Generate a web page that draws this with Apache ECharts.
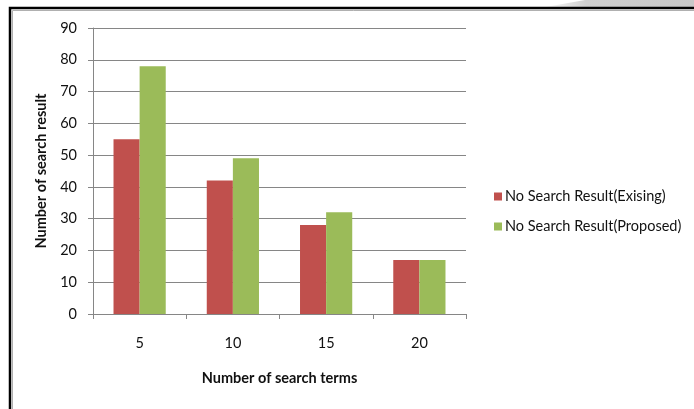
<!DOCTYPE html>
<html>
<head>
<meta charset="utf-8">
<style>
  html, body { margin: 0; padding: 0; background: #fff; }
  #chart { width: 694px; height: 409px; }
</style>
<script src="https://cdn.jsdelivr.net/npm/echarts@6/dist/echarts.min.js"></script>
</head>
<body>
<div id="chart"></div>
<script>
// Number of search terms (categories)
const searchTerms = ['5', '10', '15', '20'];
// Searches that returned no result
const existingValues = [55, 42, 28, 17];
const proposedValues = [78, 49, 32, 17];
// Series names
const seriesNames = ['No Search Result(Exising)', 'No Search Result(Proposed)'];

const FONT = 'Lato, "Open Sans", sans-serif';
const AXIS_GRAY = '#868686';
const TEXT = '#111111';

const chart = echarts.init(document.getElementById('chart'), null, { renderer: 'canvas' });

chart.setOption({
  animation: false,
  backgroundColor: '#ffffff',
  textStyle: { fontFamily: FONT },
  graphic: [
    // grey tab in the top-right corner
    {
      type: 'polygon',
      z: -1,
      shape: { points: [[540, 8], [585, 0], [694, 0], [694, 8]] },
      style: {
        fill: new echarts.graphic.LinearGradient(0, 0, 1, 0, [
          { offset: 0, color: '#ffffff' },
          { offset: 0.3, color: '#cfcfcf' },
          { offset: 1, color: '#c8c8c8' }
        ])
      }
    },
    // frame shadow line
    {
      type: 'polyline',
      z: -1,
      shape: { points: [[12.5, 420], [12.5, 10.5], [700, 10.5]] },
      style: { stroke: '#b0b0b0', lineWidth: 1, fill: null }
    },
    // frame
    {
      type: 'polyline',
      z: -1,
      shape: { points: [[10, 420], [10, 8], [700, 8]] },
      style: { stroke: '#000000', lineWidth: 2.5, fill: null }
    }
  ],
  grid: { left: 93, right: 228, top: 28, bottom: 95, containLabel: false },
  legend: {
    orient: 'vertical',
    left: 489,
    top: 184,
    itemWidth: 8,
    itemHeight: 8,
    itemGap: 15,
    icon: 'rect',
    textStyle: { fontFamily: FONT, fontSize: 14.5, color: TEXT, padding: [0, 0, 0, -2] },
    data: seriesNames
  },
  xAxis: {
    type: 'category',
    data: searchTerms,
    name: 'Number of search terms',
    nameLocation: 'middle',
    nameGap: 57,
    nameTextStyle: { fontFamily: FONT, fontWeight: 'bold', fontSize: 14.5, color: TEXT },
    axisLine: { lineStyle: { color: AXIS_GRAY, width: 1 } },
    axisTick: { show: true, length: 5, lineStyle: { color: AXIS_GRAY } },
    axisLabel: { margin: 22, fontSize: 14.5, color: TEXT, fontFamily: FONT },
    splitLine: { show: false }
  },
  yAxis: {
    type: 'value',
    min: 0,
    max: 90,
    interval: 10,
    name: 'Number of search result',
    nameLocation: 'middle',
    nameRotate: 90,
    nameGap: 44,
    nameTextStyle: { fontFamily: FONT, fontWeight: 'bold', fontSize: 14.5, color: TEXT },
    axisLine: { show: true, lineStyle: { color: AXIS_GRAY, width: 1 } },
    axisTick: { show: true, length: 5, lineStyle: { color: AXIS_GRAY } },
    axisLabel: { margin: 16, fontSize: 14.5, color: TEXT, fontFamily: FONT },
    splitLine: { show: true, lineStyle: { color: AXIS_GRAY, width: 1 } }
  },
  series: [
    {
      name: seriesNames[0],
      type: 'bar',
      data: existingValues,
      barGap: '0%',
      barCategoryGap: '44%',
      itemStyle: { color: '#C0504D' }
    },
    {
      name: seriesNames[1],
      type: 'bar',
      data: proposedValues,
      barGap: '0%',
      barCategoryGap: '44%',
      itemStyle: { color: '#9BBB59' }
    }
  ]
});
</script>
</body>
</html>
